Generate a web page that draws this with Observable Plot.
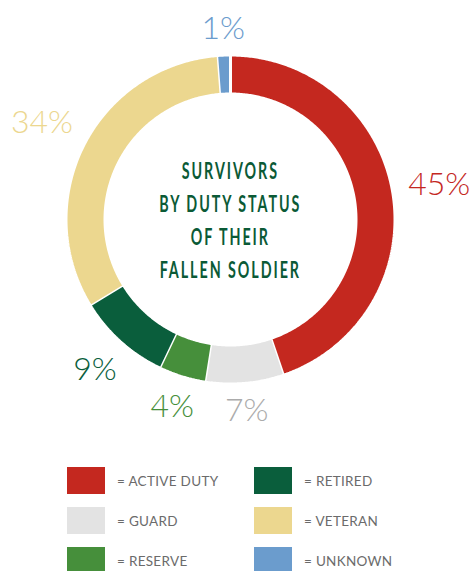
<!DOCTYPE html>
<html>
<head>
<meta charset="utf-8">
<script src="https://cdn.jsdelivr.net/npm/d3@7"></script>
<script src="https://cdn.jsdelivr.net/npm/@observablehq/plot@0.6"></script>
<style>
  html, body { margin: 0; padding: 0; background: #fff; overflow: hidden; }
  #chart svg { display: block; }
  .pct text { font-family: Lato, "Open Sans", sans-serif; font-weight: 300; }
  .title text { font-family: Lato, "Open Sans", sans-serif; font-weight: 700; letter-spacing: 3px; }
  #legend {
    display: grid;
    grid-template-columns: 187px 187px;
    grid-template-rows: 27px 27px 27px;
    grid-auto-flow: column;
    row-gap: 13px;
    padding-left: 67px;
    margin-top: 12px;
    font-family: Lato, "Open Sans", sans-serif;
    font-size: 13.5px;
    letter-spacing: 0.3px;
    color: #6b6b6b;
  }
  .item { display: flex; align-items: center; }
  .sw { width: 38px; height: 27px; margin-right: 12px; flex: none; }
</style>
</head>
<body>
<div id="chart"></div>
<div id="legend"></div>
<script>
const categories = ["Active Duty", "Guard", "Reserve", "Retired", "Veteran", "Unknown"];
// percentages printed on the chart
const labelPercents = [45, 7, 4, 9, 34, 1];
// slice sizes as drawn in the ring (read from the arc boundaries)
const ringShares = [44.8, 7.7, 4.6, 9.2, 32.5, 1.2];
const legendLabels = ["ACTIVE DUTY", "GUARD", "RESERVE", "RETIRED", "VETERAN", "UNKNOWN"];
const titleLines = ["SURVIVORS", "BY DUTY STATUS", "OF THEIR", "FALLEN SOLDIER"];

const colors = ["#c4281f", "#e3e3e3", "#468f3b", "#0a5e3c", "#ecd78f", "#6b9ccd"];
const labelColors = {"Guard": "#ababab"};

const W = 471, H = 455, CX = 230, CY = 219;
const R_OUT = 164.5, R_IN = 125.5, LABEL_GAP = 179;
const PCT_SIZE = 32;

const data = categories.map((c, i) => ({category: c, share: ringShares[i], pct: labelPercents[i]}));
const arcs = d3.pie().value(d => d.share).sort(null)(data);

// ring slice polygons sampled from the pie angles
const poly = [];
for (const a of arcs) {
  const n = Math.max(2, Math.ceil((a.endAngle - a.startAngle) / 0.01));
  for (let k = 0; k <= n; k++) {
    const t = a.startAngle + (a.endAngle - a.startAngle) * k / n;
    poly.push({category: a.data.category, x: Math.sin(t) * R_OUT, y: Math.cos(t) * R_OUT});
  }
  for (let k = n; k >= 0; k--) {
    const t = a.startAngle + (a.endAngle - a.startAngle) * k / n;
    poly.push({category: a.data.category, x: Math.sin(t) * R_IN, y: Math.cos(t) * R_IN});
  }
}

// labels: text box kept at a fixed gap from the centre along the slice's mid angle
const ctx = document.createElement("canvas").getContext("2d");
ctx.font = `300 ${PCT_SIZE}px Lato`;
const labels = arcs.map(a => {
  const m = (a.startAngle + a.endAngle) / 2;
  const text = a.data.pct + "%";
  const w = ctx.measureText(text).width, h = PCT_SIZE * 0.72;
  const d = LABEL_GAP + Math.abs(Math.sin(m)) * w / 2 + Math.abs(Math.cos(m)) * h / 2;
  return {category: a.data.category, text, x: Math.sin(m) * d, y: Math.cos(m) * d};
});

const colorOf = Object.fromEntries(categories.map((c, i) => [c, colors[i]]));

const chart = Plot.plot({
  width: W,
  height: H,
  margin: 0,
  x: {domain: [-CX, W - CX], axis: null},
  y: {domain: [CY - H, CY], axis: null},
  color: {domain: categories, range: colors},
  marks: [
    Plot.line(poly, {x: "x", y: "y", z: "category", fill: "category", stroke: "white", strokeWidth: 3, strokeLinejoin: "miter"}),
    Plot.text(labels, {x: "x", y: "y", text: "text", fontSize: PCT_SIZE, className: "pct",
      fill: d => labelColors[d.category] || colorOf[d.category]}),
    Plot.text([titleLines.join("\n")], {x: 0, y: 0, dy: -2, text: d => d, fontSize: 22, lineHeight: 1.5,
      fill: "#0b5a36", className: "title"})
  ]
});
// condense the title horizontally around the chart centre
chart.querySelectorAll("g.title").forEach(g => {
  const prev = g.getAttribute("transform") || "";
  g.setAttribute("transform", `translate(${CX},0) scale(0.65,1) translate(${-CX},0) ${prev}`);
});
document.getElementById("chart").appendChild(chart);

const legend = document.getElementById("legend");
categories.forEach((c, i) => {
  const item = document.createElement("div");
  item.className = "item";
  const sw = document.createElement("div");
  sw.className = "sw";
  sw.style.background = colors[i];
  const lab = document.createElement("span");
  lab.textContent = "= " + legendLabels[i];
  item.appendChild(sw);
  item.appendChild(lab);
  legend.appendChild(item);
});
</script>
</body>
</html>
